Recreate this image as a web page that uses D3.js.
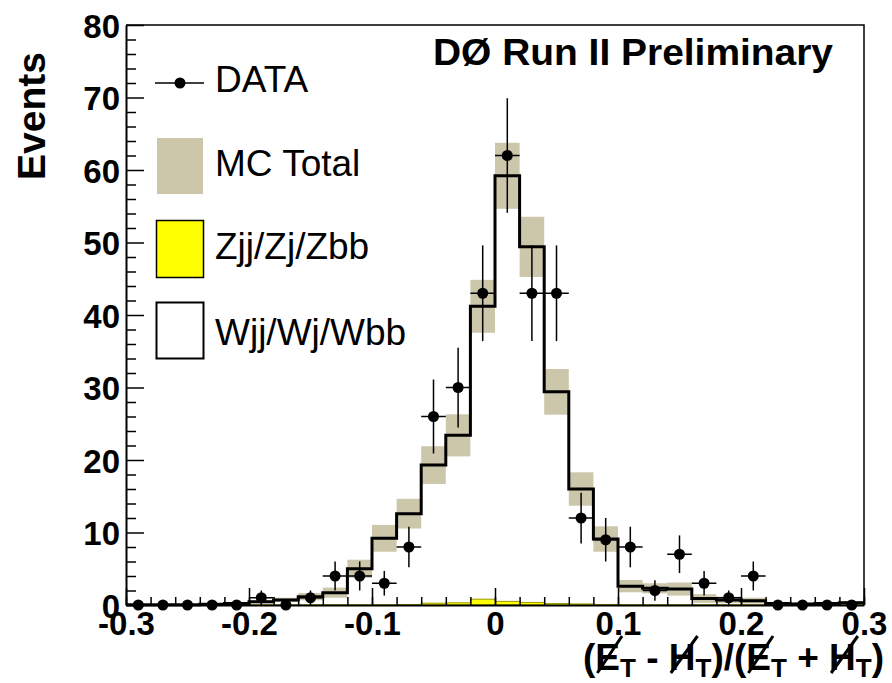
<!DOCTYPE html>
<html>
<head>
<meta charset="utf-8">
<script src="https://cdn.jsdelivr.net/npm/d3@7"></script>
<style>
  html, body { margin: 0; padding: 0; background: #fff; }
  svg { display: block; }
  text { font-family: "Liberation Sans", Arial, Helvetica, sans-serif; fill: #000; }
</style>
</head>
<body>
<svg id="chart" width="892" height="683"></svg>
<script>
// Bin edges of the (MET - MHT)/(MET + MHT) histogram
const binEdges = [-0.30,-0.28,-0.26,-0.24,-0.22,-0.20,-0.18,-0.16,-0.14,-0.12,-0.10,
                  -0.08,-0.06,-0.04,-0.02,0.00,0.02,0.04,0.06,0.08,0.10,
                  0.12,0.14,0.16,0.18,0.20,0.22,0.24,0.26,0.28,0.30];

// Observed events per bin and their statistical uncertainty
const dataCounts = [0,0,0,0,0,1,0,1,4,4,3,8,26,30,43,62,43,43,12,9,8,2,7,3,1,4,0,0,0,0];
const dataErrors = [0,0,0,0,0,1,0,1,2,2,1.7,2.8,5.1,5.5,6.6,7.9,6.6,6.6,3.5,3,2.8,1.4,2.6,1.7,1,2,0,0,0,0];

// Total simulation and its uncertainty band (half width)
const mcTotal = [0.05,0.05,0.05,0.1,0.2,0.45,0.7,1.15,1.7,5.0,9.2,12.6,19.3,23.4,41.2,59.2,49.4,29.4,16.0,9.1,2.6,2.3,2.2,0.9,0.7,0.6,0.2,0.15,0.2,0.3];
const mcUnc   = [0.05,0.05,0.05,0.1,0.15,0.2,0.3,0.5,0.7,1.25,1.85,2.05,2.6,2.9,3.65,4.55,4.15,3.15,2.3,1.75,0.85,0.7,0.9,0.6,0.45,0.4,0.2,0.15,0.2,0.25];

// Z + jets contribution
const zjj = [0,0,0,0,0,0,0,0,0,0,0,0.05,0.25,0.3,0.8,0.5,0.35,0.2,0.15,0.05,0,0,0,0,0,0,0,0,0,0];

// Axis ticks
const xMajor = [-0.3,-0.2,-0.1,0,0.1,0.2,0.3];
const xTickLabels = ["-0.3","-0.2","-0.1","0","0.1","0.2","0.3"];
const yMajor = [0,10,20,30,40,50,60,70,80];
const yMinor = [2,4,6,8,12,14,16,18,22,24,26,28,32,34,36,38,42,44,46,48,52,54,56,58,62,64,66,68,72,74,76,78];

const legendEntries = ["DATA","MC Total","Zjj/Zj/Zbb","Wjj/Wj/Wbb"];

const svg = d3.select("#chart");
const x = d3.scaleLinear().domain([-0.3, 0.3]).range([126, 864]);
const y = d3.scaleLinear().domain([0, 80]).range([605, 25]);

const bins = dataCounts.map((d, i) => ({
  lo: binEdges[i], hi: binEdges[i + 1], n: d, err: dataErrors[i],
  mc: mcTotal[i], unc: mcUnc[i], z: zjj[i]
}));

const plot = svg.append("g");

// uncertainty band on the total simulation
plot.selectAll("rect.band").data(bins).join("rect")
  .attr("class", "band")
  .attr("x", d => x(d.lo))
  .attr("width", d => x(d.hi) - x(d.lo))
  .attr("y", d => y(d.mc + d.unc))
  .attr("height", d => Math.max(0, y(Math.max(0, d.mc - d.unc)) - y(d.mc + d.unc)))
  .attr("fill", "#ccc6aa");

// step points for histogram outlines
const stepPts = arr => arr.map((v, i) => [binEdges[i], v]).concat([[binEdges[binEdges.length - 1], arr[arr.length - 1]]]);

// Z+jets filled histogram
plot.append("path")
  .datum(stepPts(zjj))
  .attr("d", d3.area().curve(d3.curveStepAfter).x(d => x(d[0])).y0(y(0)).y1(d => y(d[1])))
  .attr("fill", "#ffff00")
  .attr("stroke", "#9a9a00")
  .attr("stroke-width", 1);

// total simulation outline
plot.append("path")
  .datum(stepPts(mcTotal))
  .attr("d", d3.line().curve(d3.curveStepAfter).x(d => x(d[0])).y(d => y(d[1])))
  .attr("fill", "none")
  .attr("stroke", "#000")
  .attr("stroke-width", 3);

// data points with error bars
const pts = plot.selectAll("g.pt").data(bins).join("g").attr("class", "pt");
pts.filter(d => d.n > 0).append("line")
  .attr("x1", d => x(d.lo)).attr("x2", d => x(d.hi))
  .attr("y1", d => y(d.n)).attr("y2", d => y(d.n))
  .attr("stroke", "#000").attr("stroke-width", 1.5);
pts.filter(d => d.n > 0).append("line")
  .attr("x1", d => x((d.lo + d.hi) / 2)).attr("x2", d => x((d.lo + d.hi) / 2))
  .attr("y1", d => y(Math.max(0, d.n - d.err))).attr("y2", d => y(d.n + d.err))
  .attr("stroke", "#000").attr("stroke-width", 1.5);
pts.append("circle")
  .attr("cx", d => x((d.lo + d.hi) / 2))
  .attr("cy", d => y(d.n))
  .attr("r", 5.5)
  .attr("fill", "#000");

// frame (top and right)
svg.append("path")
  .attr("d", `M${x(-0.3)},${y(80)}H${x(0.3)}V${y(0)}`)
  .attr("fill", "none").attr("stroke", "#000").attr("stroke-width", 1.5);

// y axis: minor ticks then major ticks with labels
svg.append("g").attr("transform", `translate(${x(-0.3)},0)`)
  .call(d3.axisLeft(y).tickValues(yMinor).tickSizeInner(-10).tickSizeOuter(0).tickFormat(""))
  .call(g => g.select(".domain").remove())
  .call(g => g.selectAll("line").attr("stroke-width", 1.5));
const yAx = svg.append("g").attr("transform", `translate(${x(-0.3)},0)`)
  .call(d3.axisLeft(y).tickValues(yMajor).tickSizeInner(-18).tickSizeOuter(0).tickPadding(6).tickFormat(d3.format("d")));
yAx.select(".domain").attr("stroke-width", 2);
yAx.selectAll("line").attr("stroke-width", 1.5);
yAx.selectAll("text")
  .attr("font-family", null)
  .attr("font-size", 33).attr("font-weight", "bold")
  .attr("dy", null).attr("y", 12);

// x axis: minor ticks at bin edges, then majors with labels
svg.append("g").attr("transform", `translate(0,${y(0)})`)
  .call(d3.axisBottom(x).tickValues(binEdges).tickSizeInner(-8).tickSizeOuter(0).tickFormat(""))
  .call(g => g.select(".domain").remove())
  .call(g => g.selectAll("line").attr("stroke-width", 1.5));
const xAx = svg.append("g").attr("transform", `translate(0,${y(0)})`)
  .call(d3.axisBottom(x).tickValues(xMajor).tickSizeInner(-17).tickSizeOuter(0)
    .tickFormat((d, i) => xTickLabels[i]));
xAx.select(".domain").attr("stroke-width", 2);
xAx.selectAll("line").attr("stroke-width", 1.5);
xAx.selectAll("text")
  .attr("font-family", null)
  .attr("font-size", 33).attr("font-weight", "bold")
  .attr("dy", null).attr("y", 30);

// y axis title
svg.append("text")
  .attr("transform", "translate(45,116) rotate(-90)")
  .attr("text-anchor", "middle")
  .attr("font-size", 39).attr("font-weight", "bold")
  .text("Events");

// experiment label
svg.append("text")
  .attr("x", 433).attr("y", 65)
  .attr("font-size", 37).attr("font-weight", "bold")
  .attr("textLength", 400).attr("lengthAdjust", "spacingAndGlyphs")
  .text("DØ Run II Preliminary");

// x axis title with slashed E and H (missing transverse energies)
const xt = svg.append("text")
  .attr("x", 583).attr("y", 670)
  .attr("font-size", 37).attr("font-weight", "bold");
const parts = [
  ["(", 0], ["E", 0], ["T", 1], [" - ", 0], ["H", 0], ["T", 1], [")/(", 0],
  ["E", 0], ["T", 1], [" + ", 0], ["H", 0], ["T", 1], [")", 0]
];
let prevSub = 0;
parts.forEach(([s, sub]) => {
  const t = xt.append("tspan").text(s);
  const shift = (sub - prevSub) * 7;
  if (shift) t.attr("dy", shift);
  if (sub) t.attr("font-size", 26);
  prevSub = sub;
});
const node = xt.node();
[1, 6, 11, 16].forEach(ci => {
  const s = node.getStartPositionOfChar(ci);
  const e = node.getEndPositionOfChar(ci);
  svg.append("line")
    .attr("x1", s.x + 2).attr("y1", 673)
    .attr("x2", e.x + 2).attr("y2", 636)
    .attr("stroke", "#000").attr("stroke-width", 3);
});

// legend
const lg = svg.append("g");
lg.append("line").attr("x1", 155).attr("x2", 204).attr("y1", 83).attr("y2", 83)
  .attr("stroke", "#000").attr("stroke-width", 1.5);
lg.append("circle").attr("cx", 180).attr("cy", 83).attr("r", 5.5).attr("fill", "#000");
lg.append("rect").attr("x", 157).attr("y", 138).attr("width", 46).attr("height", 56).attr("fill", "#ccc6aa");
lg.append("rect").attr("x", 156.5).attr("y", 220.5).attr("width", 47).attr("height", 57)
  .attr("fill", "#ffff00").attr("stroke", "#000").attr("stroke-width", 1.5);
lg.append("rect").attr("x", 156.5).attr("y", 302.5).attr("width", 47).attr("height", 56)
  .attr("fill", "#fff").attr("stroke", "#000").attr("stroke-width", 2);
const legendY = [92, 176, 259, 345];
legendEntries.forEach((s, i) => {
  lg.append("text").attr("x", 215).attr("y", legendY[i]).attr("font-size", 37).text(s);
});
</script>
</body>
</html>
